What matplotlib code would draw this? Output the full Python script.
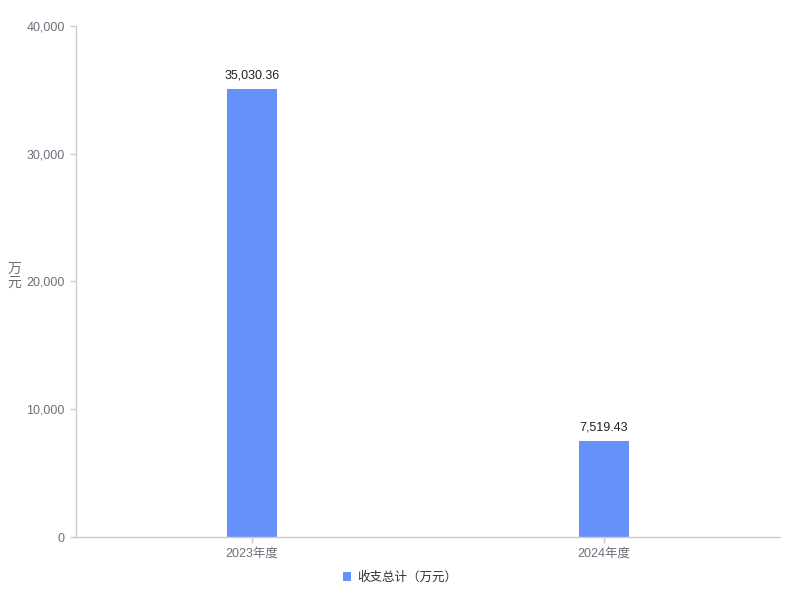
import matplotlib
matplotlib.use('Agg')
import matplotlib.pyplot as plt
from matplotlib.ticker import FuncFormatter

plt.rcParams['font.family'] = ['Liberation Sans', 'Noto Sans CJK SC', 'DejaVu Sans']

categories = ['2023年度', '2024年度']
values = [35030.36, 7519.43]
series_name = '收支总计（万元）'
y_ticks = [0, 10000, 20000, 30000, 40000]

bar_c = '#6691fb'
axis_c = '#cccccc'
text_c = '#6e7079'
fs = 9

fig = plt.figure(figsize=(8, 6), dpi=100)
ax = fig.add_axes([0.095, 0.105, 0.88, 0.852])

x = range(len(categories))
bars = ax.bar(x, values, width=0.142, color=bar_c, label=series_name, zorder=2)
for b, v in zip(bars, values):
    ax.text(b.get_x() + b.get_width() / 2, v + 600, '{:,.2f}'.format(v),
            ha='center', va='bottom', fontsize=fs, color='#222222')

ax.set_xlim(-0.5, 1.5)
ax.set_ylim(0, 40000)
ax.set_xticks(list(x))
ax.set_xticklabels(categories)
ax.set_yticks(y_ticks)
ax.yaxis.set_major_formatter(FuncFormatter(lambda v, p: '{:,.0f}'.format(v)))

for s in ['top', 'right']:
    ax.spines[s].set_visible(False)
for s in ['left', 'bottom']:
    ax.spines[s].set_color(axis_c)
    ax.spines[s].set_linewidth(1)
ax.tick_params(axis='both', colors=axis_c, labelcolor=text_c, labelsize=fs, length=4, width=1)
ax.tick_params(axis='y', pad=4)

fig.text(0.018, 0.54, '万\n元', ha='center', va='center', fontsize=fs + 1,
         color=text_c, linespacing=1.0)

leg = fig.legend(handles=[bars], labels=[series_name], loc='lower center',
                 bbox_to_anchor=(0.5, 0.008), frameon=False, fontsize=fs,
                 handlelength=0.7, handleheight=0.7, handletextpad=0.5)
for t in leg.get_texts():
    t.set_color('#333333')

fig.savefig('out.png', dpi=100)
